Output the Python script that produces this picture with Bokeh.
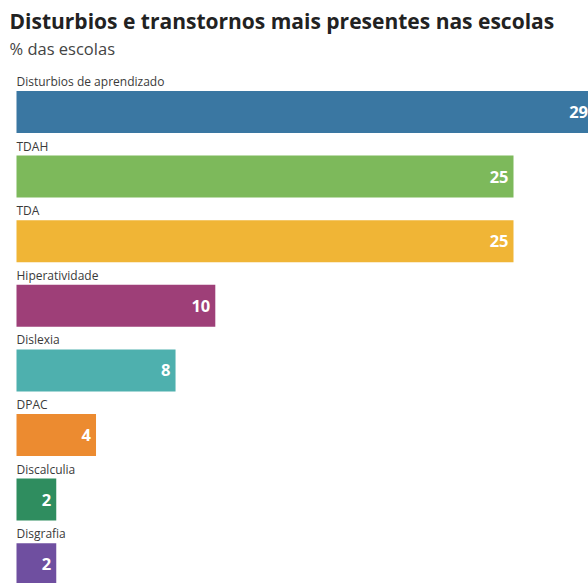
from bokeh.plotting import figure
from bokeh.models import ColumnDataSource, Range1d, Label
from bokeh.core.properties import value
from bokeh.embed import file_html
from bokeh.resources import INLINE

categories = ["Disturbios de aprendizado", "TDAH", "TDA", "Hiperatividade",
              "Dislexia", "DPAC", "Discalculia", "Disgrafia"]
values = [29, 25, 25, 10, 8, 4, 2, 2]
colors = ["#3a77a2", "#7db95b", "#f0b536", "#9e3f78",
          "#4eb0ae", "#ec8b30", "#2f8d5f", "#6f4fa0"]
title_text = "Disturbios e transtornos mais presentes nas escolas"
subtitle_text = "% das escolas"

W, H = 588, 583
px_per_unit = 19.88
row_px = 64.6
left_pad = 16
first_center = 111.5
bar_h = 42 / row_px
FONT = "Open Sans"

rows = list(range(len(categories)))
src = ColumnDataSource(dict(
    y=rows, v=values, c=colors, cat=categories,
    lab=[str(v) for v in values],
    ly=[r - bar_h / 2 for r in rows],
))

p = figure(width=W, height=H, output_backend="svg", toolbar_location=None,
           x_range=Range1d(-left_pad / px_per_unit, (W - left_pad) / px_per_unit),
           y_range=Range1d((H - first_center) / row_px, -first_center / row_px),
           min_border=0, min_border_left=0, min_border_right=0,
           min_border_top=0, min_border_bottom=0)
p.axis.visible = False
p.grid.visible = False
p.outline_line_color = None
p.background_fill_color = "white"
p.border_fill_color = "white"

p.hbar(y="y", left=0, right="v", height=bar_h, fill_color="c",
       line_color=None, source=src)

p.text(x="v", y="y", text="lab", source=src, x_offset=-5,
       text_align="right", text_baseline="middle",
       text_color="white", text_font=value(FONT), text_font_style="bold",
       text_font_size="16.5px")

p.text(x=0, y="ly", text="cat", source=src, x_offset=0, y_offset=-1,
       text_align="left", text_baseline="bottom",
       text_color="#3a3a3a", text_font=value(FONT), text_font_size="12px")

p.add_layout(Label(x=9, y=H - 6, x_units="screen", y_units="screen",
                   text=title_text, text_baseline="top", text_align="left",
                   text_font=FONT, text_font_style="bold",
                   text_font_size="21px", text_color="#222222"))
p.add_layout(Label(x=9, y=H - 36, x_units="screen", y_units="screen",
                   text=subtitle_text, text_baseline="top", text_align="left",
                   text_font=FONT, text_font_size="16.5px",
                   text_color="#444444"))

open("out.html", "w").write(file_html(p, INLINE))
